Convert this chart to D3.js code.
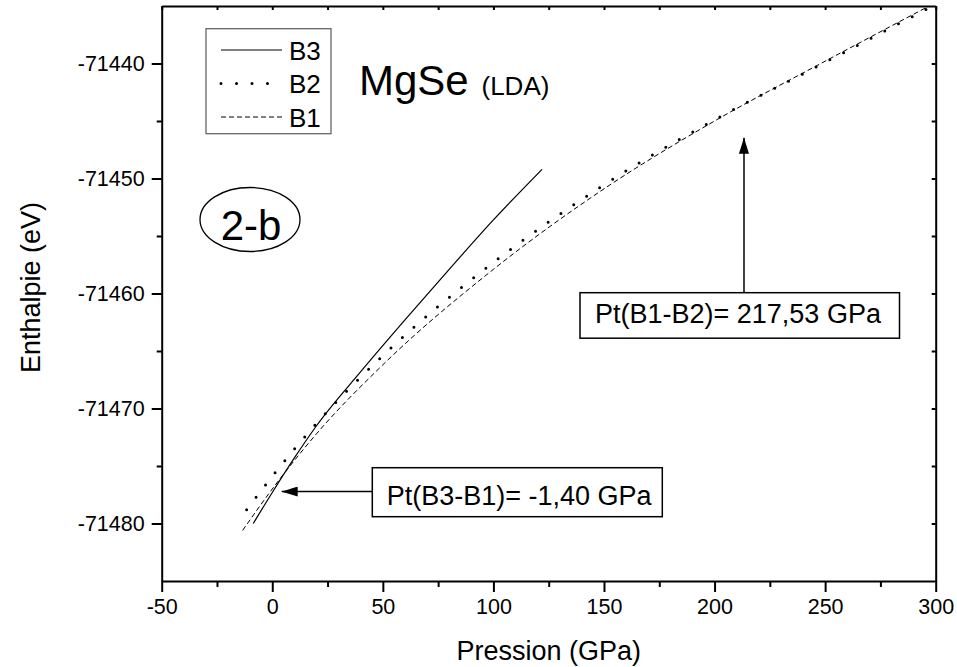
<html>
<head>
<meta charset="utf-8">
<script src="https://cdn.jsdelivr.net/npm/d3@7"></script>
<style>
  body { margin: 0; background: white; }
  text { font-family: "Liberation Sans", Arial, sans-serif; fill: black; }
</style>
</head>
<body>
<svg width="957" height="667"></svg>
<script>
// values
const pressB3 = [-8.6, 0, 10, 20, 40, 60, 80, 100, 122]
const enthB3 = [-71480.0, -71477.3, -71474.3, -71471.5, -71466.8, -71462.3, -71457.9, -71453.6, -71449.2]
const pressB2 = [-11.6, 0, 20, 50, 100, 150, 200, 250, 300]
const enthB2 = [-71478.8, -71475.9, -71471.3, -71465.4, -71457.3, -71450.55, -71444.9, -71439.9, -71434.85]
const pressB1 = [-13.4, 0, 20, 50, 100, 150, 200, 250, 300]
const enthB1 = [-71480.6, -71477.0, -71472.2, -71466.2, -71457.9, -71450.9, -71445.0, -71439.8, -71434.7]

const xTicks = [-50, 0, 50, 100, 150, 200, 250, 300]
const xMinor = [-25, 25, 75, 125, 175, 225, 275]
const yTicks = [-71480, -71470, -71460, -71450, -71440]
const yMinor = [-71475, -71465, -71455, -71445]

const seriesNames = ["B3", "B2", "B1"]

const svg = d3.select("svg")

const x = d3.scaleLinear().domain([-50, 300]).range([161.7, 935.7])
const y = d3.scaleLinear().domain([-71485, -71435]).range([581, 6])

const fmt = d => String(d)

svg.append("defs").append("clipPath").attr("id","plot")
  .append("rect").attr("x",x(-50)).attr("y",y(-71435)).attr("width",x(300)-x(-50)).attr("height",y(-71485)-y(-71435))

svg.append("defs").append("marker").attr("id","head").attr("viewBox","0 0 16 10")
  .attr("refX",16).attr("refY",5).attr("markerWidth",16).attr("markerHeight",10)
  .attr("markerUnits","userSpaceOnUse").attr("orient","auto")
  .append("path").attr("d","M0,0 L16,5 L0,10 Z").attr("fill","black")

// axes
const axisStyle = g => {
  g.select(".domain").attr("stroke-width",2)
  g.selectAll(".tick line").attr("stroke-width",2)
  g.selectAll("text").attr("font-size",21.5).attr("font-family","Liberation Sans, Arial, sans-serif").attr("fill","black")
}

svg.append("g").attr("transform",`translate(0,${y(-71485)})`)
  .call(d3.axisBottom(x).tickValues(xTicks).tickSize(11).tickSizeOuter(0).tickPadding(7).tickFormat(fmt))
  .call(axisStyle)
svg.append("g").attr("transform",`translate(0,${y(-71485)})`)
  .call(d3.axisBottom(x).tickValues(xMinor).tickSize(6).tickFormat(""))
  .call(g => g.select(".domain").remove())
  .call(axisStyle)

svg.append("g").attr("transform",`translate(${x(-50)},0)`)
  .call(d3.axisLeft(y).tickValues(yTicks).tickSize(10).tickSizeOuter(0).tickPadding(7).tickFormat(fmt))
  .call(axisStyle)
svg.append("g").attr("transform",`translate(${x(-50)},0)`)
  .call(d3.axisLeft(y).tickValues(yMinor).tickSize(5).tickFormat(""))
  .call(g => g.select(".domain").remove())
  .call(axisStyle)

// mirrored top and right with small inward ticks
svg.append("g").attr("transform",`translate(0,${y(-71435)})`)
  .call(d3.axisTop(x).tickValues(xTicks.concat(xMinor)).tickSize(-4).tickSizeOuter(0).tickFormat(""))
  .call(axisStyle)
svg.append("g").attr("transform",`translate(${x(300)},0)`)
  .call(d3.axisRight(y).tickValues(yTicks.concat(yMinor)).tickSize(-4).tickSizeOuter(0).tickFormat(""))
  .call(axisStyle)

// axis titles
svg.append("text").attr("x",(x(-50)+x(300))/2).attr("y",660).attr("text-anchor","middle")
  .attr("font-size",27).text("Pression (GPa)")
svg.append("text").attr("transform",`translate(40,${(y(-71435)+y(-71485))/2 - 6}) rotate(-90)`)
  .attr("text-anchor","middle").attr("font-size",27).text("Enthalpie (eV)")

// curves
const styles = {
  B3: {dash: null, width: 1.2, cap: "butt"},
  B2: {dash: "0,15.5", width: 3, cap: "round"},
  B1: {dash: "5,3", width: 1, cap: "butt"}
}
const series = [
  {name: "B3", press: pressB3, enth: enthB3},
  {name: "B2", press: pressB2, enth: enthB2},
  {name: "B1", press: pressB1, enth: enthB1}
]
const line = d3.line().x(d => x(d[0])).y(d => y(d[1])).curve(d3.curveMonotoneX)
const curves = svg.append("g").attr("clip-path","url(#plot)")
series.forEach(s => {
  const st = styles[s.name]
  curves.append("path").attr("d",line(d3.zip(s.press, s.enth)))
    .attr("fill","none").attr("stroke","black").attr("stroke-width",st.width)
    .attr("stroke-dasharray",st.dash).attr("stroke-linecap",st.cap)
})

// legend
const legend = svg.append("g")
legend.append("rect").attr("x",206).attr("y",28.7).attr("width",125).attr("height",105)
  .attr("fill","none").attr("stroke","#666").attr("stroke-width",1.3)
seriesNames.forEach((n, i) => {
  const ly = 50 + i*33.5
  const st = styles[n]
  legend.append("line").attr("x1",221).attr("x2",282).attr("y1",ly).attr("y2",ly)
    .attr("stroke","black").attr("stroke-width",st.width).attr("stroke-dasharray",st.dash).attr("stroke-linecap",st.cap)
  legend.append("text").attr("x",289).attr("y",ly+9.5).attr("font-size",26).text(n)
})

// title
svg.append("text").attr("x",359).attr("y",95).attr("font-size",42).text("MgSe")
svg.append("text").attr("x",481.5).attr("y",95).attr("font-size",26).text("(LDA)")

// 2-b label
svg.append("ellipse").attr("cx",250).attr("cy",219.5).attr("rx",50).attr("ry",32)
  .attr("fill","none").attr("stroke","black").attr("stroke-width",1.3)
svg.append("text").attr("x",251).attr("y",240).attr("text-anchor","middle").attr("font-size",42).text("2-b")

// transition annotations
const notes = [
  {text: "Pt(B3-B1)= -1,40 GPa", box: [372.3, 467.7, 290, 49], tx: 386.7, ty: 505,
   from: [372.3, 491.5], tip: [4.26, -71477.22]},
  {text: "Pt(B1-B2)= 217,53 GPa", box: [580, 292.7, 319.5, 45.5], tx: 595, ty: 323.3,
   from: [744, 292.7], tip: [213.3, -71446.45]}
]
notes.forEach(a => {
  svg.append("line").attr("x1",a.from[0]).attr("y1",a.from[1])
    .attr("x2",x(a.tip[0])).attr("y2",y(a.tip[1]))
    .attr("stroke","black").attr("stroke-width",1.5).attr("marker-end","url(#head)")
  svg.append("rect").attr("x",a.box[0]).attr("y",a.box[1]).attr("width",a.box[2]).attr("height",a.box[3])
    .attr("fill","white").attr("stroke","black").attr("stroke-width",1.5)
  svg.append("text").attr("x",a.tx).attr("y",a.ty).attr("font-size",27).text(a.text)
})
</script>
</body>
</html>
